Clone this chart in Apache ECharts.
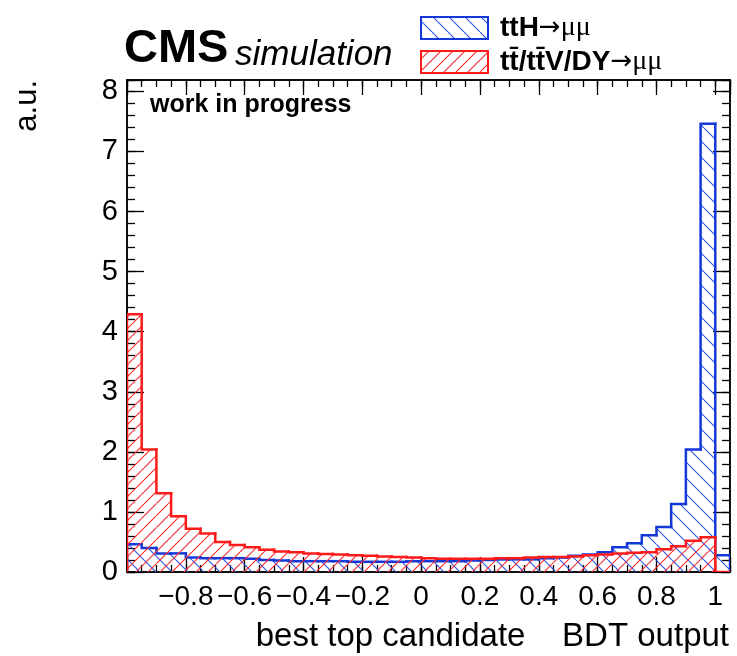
<!DOCTYPE html>
<html>
<head>
<meta charset="utf-8">
<script src="https://cdn.jsdelivr.net/npm/echarts@6/dist/echarts.min.js"></script>
<style>
  html, body { margin: 0; padding: 0; background: #fff; }
  #chart { width: 737px; height: 656px; }
</style>
</head>
<body>
<div id="chart"></div>
<script>
// Binning: 41 bins of width 0.05 starting at -1 (last bin is 1.00-1.05)
const BIN_START = -1.0;
const BIN_WIDTH = 0.05;

// Normalised bin contents (a.u.)
const ttHValues = [
  0.46, 0.40, 0.31, 0.31, 0.24, 0.23, 0.23, 0.23, 0.22, 0.20,
  0.19, 0.18, 0.18, 0.18, 0.18, 0.17, 0.17, 0.17, 0.17, 0.18,
  0.18, 0.18, 0.18, 0.19, 0.20, 0.21, 0.21, 0.21, 0.23, 0.24,
  0.27, 0.29, 0.33, 0.41, 0.48, 0.61, 0.75, 1.13, 2.04, 7.46,
  0.28
];
const bkgValues = [
  4.29, 2.04, 1.31, 0.93, 0.72, 0.64, 0.50, 0.45, 0.41, 0.37,
  0.34, 0.33, 0.31, 0.30, 0.29, 0.28, 0.27, 0.26, 0.25, 0.24,
  0.23, 0.22, 0.22, 0.22, 0.22, 0.23, 0.23, 0.24, 0.25, 0.25,
  0.26, 0.28, 0.29, 0.31, 0.32, 0.33, 0.38, 0.43, 0.52, 0.58,
  0.00
];

// Axis tick labels
const xTickLabels = [-0.8, -0.6, -0.4, -0.2, 0, 0.2, 0.4, 0.6, 0.8, 1];
const yTickLabels = [0, 1, 2, 3, 4, 5, 6, 7, 8];

const X_MIN = -1, X_MAX = 1.05, Y_MIN = 0, Y_MAX = 8.19;

const BLUE = '#1438d8';
const RED = '#ff1a1a';
const FONT = '"Liberation Sans", Arial, Helvetica, sans-serif';
const SYM = '"DejaVu Sans", sans-serif';
const SERIF = '"Liberation Serif", "DejaVu Serif", serif';

// Diagonal hatch patterns
function hatch(color, size, forward, lw) {
  const c = document.createElement('canvas');
  c.width = size; c.height = size;
  const g = c.getContext('2d');
  g.strokeStyle = color;
  g.lineWidth = lw;
  g.beginPath();
  for (let k = -1; k <= 1; k++) {
    if (forward) { // '/'
      g.moveTo(k * size, size); g.lineTo(k * size + size, 0);
    } else {       // '\'
      g.moveTo(k * size, 0); g.lineTo(k * size + size, size);
    }
  }
  g.stroke();
  return { image: c, repeat: 'repeat' };
}
const bluePattern = hatch('#3358e0', 16, false, 1.2);
const redPattern = hatch('#ff3030', 12, true, 1.2);

function histSeries(name, values, stroke, pattern, z) {
  const data = values.map((v, i) => {
    const lo = BIN_START + i * BIN_WIDTH;
    return [lo, lo + BIN_WIDTH, v, i === 0 ? 0 : values[i - 1], i === values.length - 1 ? 1 : 0];
  });
  return {
    type: 'custom',
    name: name,
    z: z,
    silent: true,
    clip: true,
    xAxisIndex: 0,
    yAxisIndex: 0,
    data: data,
    encode: { x: [0, 1], y: 2 },
    renderItem: function (params, api) {
      const lo = api.value(0), hi = api.value(1), v = api.value(2);
      const prev = api.value(3), last = api.value(4);
      const pBL = api.coord([lo, 0]);
      const pTL = api.coord([lo, v]);
      const pTR = api.coord([hi, v]);
      const pBR = api.coord([hi, 0]);
      const pPrev = api.coord([lo, prev]);
      const pts = [pPrev, pTL, pTR];
      if (last) pts.push(pBR);
      return {
        type: 'group',
        children: [
          {
            type: 'rect',
            shape: { x: pBL[0], y: pTL[1], width: pBR[0] - pBL[0], height: pBL[1] - pTL[1] },
            style: { fill: pattern, stroke: null }
          },
          {
            type: 'polyline',
            shape: { points: pts },
            style: { stroke: stroke, lineWidth: 2.5, fill: null, lineCap: 'square', lineJoin: 'miter' }
          }
        ]
      };
    }
  };
}

function fmtX(v) {
  const r = Math.round(v * 10) / 10;
  if (Math.abs(v - r) > 1e-6) return '';
  if (xTickLabels.indexOf(r) < 0) return '';
  return String(r).replace('-', '\u2212');
}
function fmtY(v) {
  const r = Math.round(v);
  if (Math.abs(v - r) > 1e-6) return '';
  return yTickLabels.indexOf(r) < 0 ? '' : String(r);
}

const lineStyle = { color: '#000', width: 1.5 };

function xAxis(position, interval, tickLen, labels) {
  return {
    type: 'value', position: position, min: X_MIN, max: X_MAX, interval: interval,
    axisLine: { show: true, onZero: false, lineStyle: lineStyle },
    axisTick: { show: true, inside: true, length: tickLen, lineStyle: { color: '#000', width: 1.3 } },
    axisLabel: labels ? { show: true, formatter: fmtX, fontSize: 28, color: '#000', fontFamily: FONT, margin: 11 } : { show: false },
    splitLine: { show: false }
  };
}
function yAxis(position, interval, tickLen, labels) {
  return {
    type: 'value', position: position, min: Y_MIN, max: Y_MAX, interval: interval,
    axisLine: { show: true, onZero: false, lineStyle: lineStyle },
    axisTick: { show: true, inside: true, length: tickLen, lineStyle: { color: '#000', width: 1.3 } },
    axisLabel: labels ? { show: true, formatter: fmtY, fontSize: 29, color: '#000', fontFamily: FONT, margin: 9 } : { show: false },
    splitLine: { show: false }
  };
}

const chart = echarts.init(document.getElementById('chart'), null, { renderer: 'canvas' });

const legendBox = (y, pattern, color) => ({
  type: 'rect',
  shape: { x: 421, y: y, width: 67, height: 22 },
  style: { fill: pattern, stroke: color, lineWidth: 2 }
});
const legendRich = {
  b: { fontFamily: FONT, fontWeight: 'bold', fontSize: 28, fill: '#000' },
  a: { fontFamily: SYM, fontSize: 26, fill: '#000' },
  s: { fontFamily: SERIF, fontSize: 28, fill: '#000' }
};

chart.setOption({
  animation: false,
  backgroundColor: '#fff',
  grid: { left: 127, right: 7, top: 80, bottom: 84, containLabel: false, outerBoundsMode: 'none' },
  xAxis: [
    xAxis('bottom', 0.2, 15, true),
    xAxis('bottom', 0.05, 7, false),
    xAxis('top', 0.2, 15, false),
    xAxis('top', 0.05, 7, false)
  ],
  yAxis: [
    yAxis('left', 1, 17, true),
    yAxis('left', 0.2, 8, false),
    yAxis('right', 1, 17, false),
    yAxis('right', 0.2, 8, false)
  ],
  series: [
    histSeries('ttH→μμ', ttHValues, BLUE, bluePattern, 2),
    histSeries('tt̄/tt̄V/DY→μμ', bkgValues, RED, redPattern, 3)
  ],
  graphic: [
    { type: 'text', x: 124, y: 49, style: { text: 'CMS', font: 'bold 47px ' + FONT, fill: '#000', verticalAlign: 'middle' } },
    { type: 'text', x: 235, y: 55, style: { text: 'simulation', font: 'italic 35px ' + FONT, fill: '#000', verticalAlign: 'middle' } },
    { type: 'text', x: 150, y: 105, style: { text: 'work in progress', font: 'bold 25px ' + FONT, fill: '#000', verticalAlign: 'middle' } },
    legendBox(17, bluePattern, BLUE),
    legendBox(51, redPattern, RED),
    {
      type: 'text', x: 500, y: 28,
      style: { text: '{b|ttH}{a|→}{s|μμ}', verticalAlign: 'middle', rich: legendRich }
    },
    {
      type: 'text', x: 500, y: 62,
      style: { text: '{b|t\u0074\u0304/t\u0074\u0304V/DY}{a|→}{s|μμ}', verticalAlign: 'middle', rich: legendRich }
    },
    { type: 'text', x: 27, y: 80, rotation: Math.PI / 2, style: { text: 'a.u.', font: '31px ' + FONT, fill: '#000', align: 'right', verticalAlign: 'middle' } },
    { type: 'text', x: 729, y: 637, style: { text: 'best top candidate    BDT output', font: '33px ' + FONT, fill: '#000', align: 'right', verticalAlign: 'middle' } }
  ]
});
</script>
</body>
</html>
